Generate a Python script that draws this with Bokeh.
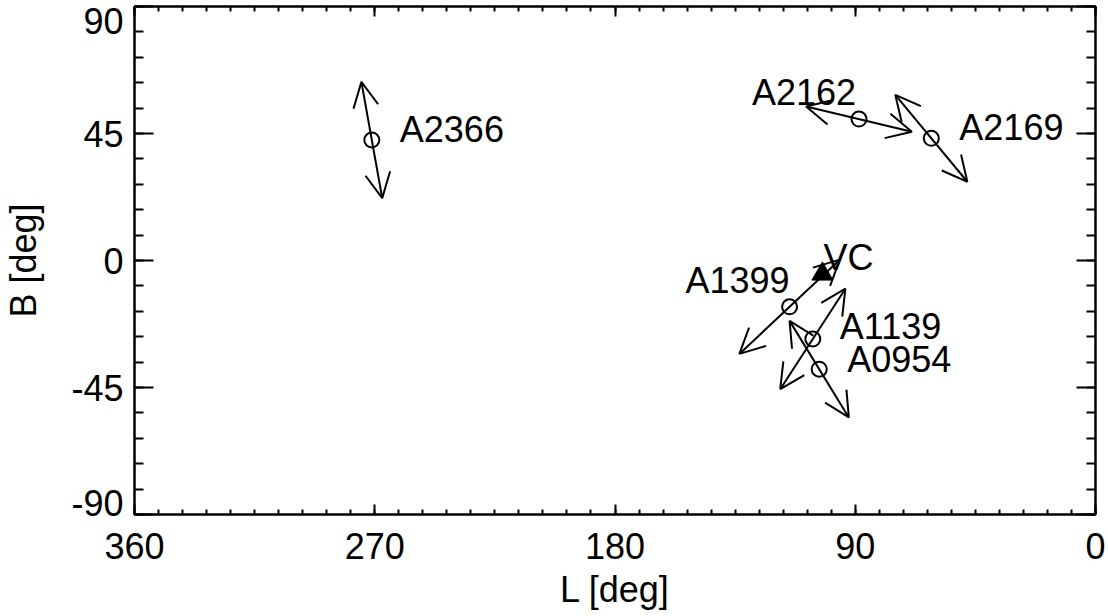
from bokeh.plotting import figure
from bokeh.models import (Range1d, LinearAxis, FixedTicker, Arrow, OpenHead,
                          ColumnDataSource)
from bokeh.core.properties import value
from bokeh.embed import file_html
from bokeh.resources import INLINE

# ---- data (galactic coordinates, degrees) ----
names = ["A2366", "A2162", "A2169", "A1399", "A1139", "A0954"]
gal_l = [271.1, 88.6, 61.5, 114.6, 105.9, 103.5]
gal_b = [42.7, 50.1, 43.3, -16.4, -27.8, -38.5]
# half-vector from each cluster to the tips of its double-headed arrow
arrow_dl = [3.9, 19.8, 13.5, -18.8, -12.2, 11.1]
arrow_db = [20.6, 4.5, 15.4, 16.7, 17.8, 17.1]

vc_name = ["VC"]
vc_l = [102.3]
vc_b = [-4.8]

x_ticks = [360, 270, 180, 90, 0]
y_ticks = [-90, -45, 0, 45, 90]

FONT = "Liberation Sans"
FS = "36px"

# label placement style (text_align, screen x offset, screen y offset)
label_style = {
    "A2366": ("left", 28, -10),
    "A2162": ("right", -3, -27),
    "A2169": ("left", 28, -11),
    "A1399": ("right", 0, -26),
    "A1139": ("left", 27, -12),
    "A0954": ("left", 28, -10),
    "VC": ("left", 1, -17),
}

p = figure(width=1106, height=614,
           x_range=Range1d(360, 0), y_range=Range1d(-90, 90),
           output_backend="svg", toolbar_location=None,
           x_axis_location=None, y_axis_location=None,
           min_border_left=134, min_border_right=11,
           min_border_top=6, min_border_bottom=100)
p.grid.visible = False
p.outline_line_color = "black"
p.outline_line_width = 2
p.background_fill_color = "white"
p.border_fill_color = "white"

x_minor = list(range(0, 361, 9))
y_minor = list(range(-90, 91, 9))


def make_axis(ticks, minor, major_len, minor_len, show_labels):
    ax = LinearAxis(ticker=FixedTicker(ticks=ticks, minor_ticks=minor))
    ax.axis_line_width = 2
    ax.axis_line_color = "black"
    ax.major_tick_line_width = 2
    ax.minor_tick_line_width = 2
    ax.major_tick_line_color = "black"
    ax.minor_tick_line_color = "black"
    ax.major_tick_in = major_len
    ax.major_tick_out = 0
    ax.minor_tick_in = minor_len
    ax.minor_tick_out = 0
    ax.major_label_text_font = FONT
    ax.major_label_text_color = "black"
    ax.axis_label_text_font = FONT
    ax.axis_label_text_font_style = "normal"
    ax.axis_label_text_font_size = FS
    ax.axis_label_text_color = "black"
    if show_labels:
        ax.major_label_text_font_size = FS
    else:
        ax.major_label_text_font_size = "0px"
        ax.major_label_standoff = 0
        ax.major_label_overrides = {t: "" for t in ticks}
    return ax


bottom = make_axis(x_ticks, x_minor, 10, 5, True)
bottom.axis_label = "L [deg]"
bottom.major_label_standoff = 18
bottom.axis_label_standoff = 7
top = make_axis(x_ticks, x_minor, 10, 5, False)

# left: tick marks on the box edge, labels on a second (line-less) axis
left_ticks = make_axis(y_ticks, y_minor, 19, 9, False)
# end labels sit just inside the box, as in the original
label_pos = {-90: -86, -45: -45, 0: 0, 45: 45, 90: 84.8}
left_labels = make_axis([label_pos[t] for t in y_ticks], [], 0, 0, True)
left_labels.axis_line_color = None
left_labels.major_tick_line_color = None
left_labels.minor_tick_line_color = None
left_labels.major_label_overrides = {label_pos[t]: str(t) for t in y_ticks}
left_labels.major_label_standoff = 11
left_labels.axis_label = "B [deg]"
left_labels.axis_label_standoff = 24
right = make_axis(y_ticks, y_minor, 19, 9, False)

p.add_layout(bottom, "below")
p.add_layout(top, "above")
p.add_layout(left_ticks, "left")
p.add_layout(left_labels, "left")
p.add_layout(right, "right")

# arrows
src = ColumnDataSource(dict(
    x0=[l - dl for l, dl in zip(gal_l, arrow_dl)],
    y0=[b - db for b, db in zip(gal_b, arrow_db)],
    x1=[l + dl for l, dl in zip(gal_l, arrow_dl)],
    y1=[b + db for b, db in zip(gal_b, arrow_db)],
))
p.add_layout(Arrow(x_start="x0", y_start="y0", x_end="x1", y_end="y1",
                   source=src, line_width=2, line_color="black",
                   start=OpenHead(size=25, line_width=2, line_color="black"),
                   end=OpenHead(size=25, line_width=2, line_color="black")))

# cluster positions
p.scatter(gal_l, gal_b, marker="circle", size=15, fill_color=None,
          line_color="black", line_width=2)

# VC
p.scatter(vc_l, vc_b, marker="triangle", size=21, fill_color="black",
          line_color="black", line_width=1)

# labels
all_names = names + vc_name
lab = ColumnDataSource(dict(
    x=gal_l + vc_l, y=gal_b + vc_b, text=all_names,
    align=[label_style[n][0] for n in all_names],
    dx=[label_style[n][1] for n in all_names],
    dy=[label_style[n][2] for n in all_names],
))
p.text(x="x", y="y", text="text", source=lab, text_align="align",
       x_offset="dx", y_offset="dy", text_baseline="alphabetic",
       text_font=value(FONT), text_font_size=FS, text_color="black")

open("out.html", "w").write(file_html(p, INLINE))
